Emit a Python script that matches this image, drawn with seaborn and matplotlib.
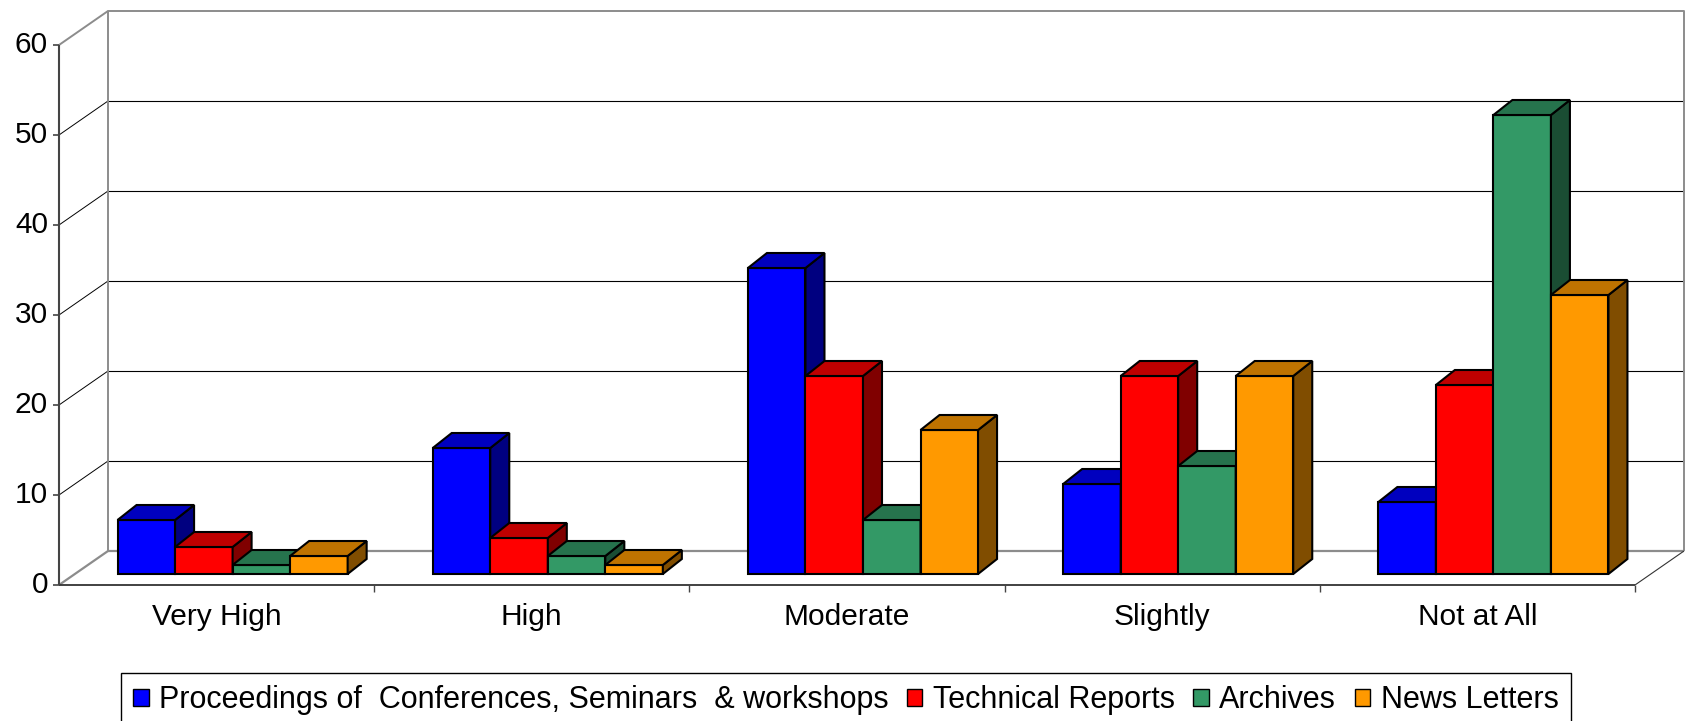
import numpy as np
import pandas as pd
import matplotlib
matplotlib.use("Agg")
import matplotlib.pyplot as plt
from matplotlib.patches import Polygon, Patch
import seaborn as sns

# ---------------- data ----------------
categories = ["Very High", "High", "Moderate", "Slightly", "Not at All"]
series_names = ["Proceedings of  Conferences, Seminars  & workshops",
                "Technical Reports", "Archives", "News Letters"]
proceedings = [6, 14, 34, 10, 8]
technical_reports = [3, 4, 22, 22, 21]
archives = [1, 2, 6, 12, 51]
news_letters = [2, 1, 16, 22, 31]
y_ticks = [0, 10, 20, 30, 40, 50, 60]
colors = ["#0000FF", "#FF0000", "#339966", "#FF9900"]

values = [proceedings, technical_reports, archives, news_letters]
rows = []
for name, vals in zip(series_names, values):
    for cat, v in zip(categories, vals):
        rows.append({"category": cat, "series": name, "value": v})
df = pd.DataFrame(rows)

plt.rcParams["font.family"] = ["Liberation Sans", "DejaVu Sans"]
FS = 21.5

W, H = 1685, 721
fig = plt.figure(figsize=(W / 100, H / 100), dpi=100)

# bar plane axes (pixel geometry)
ax_left_px, ax_right_px = 75, 1651
ax_base_px, ax_top_px = 574, 34
ax = fig.add_axes([ax_left_px / W, (H - ax_base_px) / H,
                   (ax_right_px - ax_left_px) / W, (ax_base_px - ax_top_px) / H])

sns.barplot(data=df, x="category", y="value", hue="series", palette=colors,
            order=categories, hue_order=series_names, width=0.73,
            edgecolor="black", linewidth=1.5, saturation=1, ax=ax, legend=False)
ax.set_xlim(-0.5, 4.5)
ax.set_ylim(0, 60)
ax.set_axis_off()

sx = (ax_right_px - ax_left_px) / 5.0   # px per x unit
sy = (ax_base_px - ax_top_px) / 60.0    # px per y unit

def off(dx_px, dy_px):
    return dx_px / sx, dy_px / sy

fdx, fdy = off(-16, -11)   # front plane
bdx, bdy = off(33, 23)     # back wall plane
ddx, ddy = off(19, 15)     # bar depth

gray = "#8c8c8c"
kw = dict(clip_on=False, solid_capstyle="butt")

# back wall gridlines and left wall lines
for v in y_ticks[1:-1]:
    ax.plot([-0.5 + bdx, 4.5 + bdx], [v + bdy, v + bdy], color="black", lw=0.8, zorder=1, **kw)
    ax.plot([-0.5 + fdx, -0.5 + bdx], [v + fdy, v + bdy], color="black", lw=0.7, zorder=1, **kw)
# back wall frame
ax.plot([-0.5 + bdx, -0.5 + bdx, 4.5 + bdx, 4.5 + bdx],
        [0 + bdy, 60 + bdy, 60 + bdy, 0 + bdy], color=gray, lw=1.4, zorder=1, **kw)
ax.plot([-0.5 + bdx, 4.5 + bdx], [bdy, bdy], color=gray, lw=1.6, zorder=1, **kw)
# left wall edges
ax.plot([-0.5 + fdx, -0.5 + bdx], [60 + fdy, 60 + bdy], color=gray, lw=1.4, zorder=1, **kw)
ax.plot([-0.5 + fdx, -0.5 + bdx], [fdy, bdy], color=gray, lw=1.6, zorder=1, **kw)
# floor right edge
ax.plot([4.5 + fdx, 4.5 + bdx], [fdy, bdy], color="#333333", lw=0.8, zorder=1, **kw)
# front floor line & y axis
ax.plot([-0.5 + fdx, 4.5 + fdx], [fdy, fdy], color="#333333", lw=1.3, zorder=2, **kw)
ax.plot([-0.5 + fdx, -0.5 + fdx], [fdy, 60 + fdy], color="#444444", lw=1.5, zorder=2, **kw)

# y ticks + labels
tdx, _ = off(-6, 0)
ldx, _ = off(-11, 0)
for v in y_ticks:
    ax.plot([-0.5 + fdx + tdx, -0.5 + fdx], [v + fdy, v + fdy], color="#444444", lw=1.2, **kw)
    ax.text(-0.5 + fdx + ldx, v + fdy, str(v), ha="right", va="center",
            fontsize=FS, color="black", clip_on=False)

# category ticks on the front floor
_, tdy = off(0, -7)
for k in range(1, 6):
    xk = -0.5 + k + fdx
    ax.plot([xk, xk], [fdy, fdy + tdy], color="#444444", lw=1.0, **kw)

# category labels
_, cly = off(0, -43)
for i, cat in enumerate(categories):
    ax.text(i + fdx, cly, cat, ha="center", va="center", fontsize=FS,
            color="black", clip_on=False)

# 3D faces for bars
def shade(c, f):
    r, g, b = matplotlib.colors.to_rgb(c)
    return (r * f, g * f, b * f)

for p in list(ax.patches):
    x0, w, h = p.get_x(), p.get_width(), p.get_height()
    fc = p.get_facecolor()
    z = 10 + x0
    p.set_zorder(z)
    p.set_clip_on(False)
    side = Polygon([(x0 + w, 0), (x0 + w + ddx, ddy), (x0 + w + ddx, h + ddy), (x0 + w, h)],
                   closed=True, facecolor=shade(fc, 0.5), edgecolor="black",
                   linewidth=1.5, zorder=z, clip_on=False, joinstyle="miter")
    top = Polygon([(x0, h), (x0 + w, h), (x0 + w + ddx, h + ddy), (x0 + ddx, h + ddy)],
                  closed=True, facecolor=shade(fc, 0.75), edgecolor="black",
                  linewidth=1.5, zorder=z, clip_on=False, joinstyle="miter")
    ax.add_patch(side)
    ax.add_patch(top)

# legend
handles = [Patch(facecolor=c, edgecolor="black", linewidth=1.0) for c in colors]
leg = fig.legend(handles, series_names, loc="upper left",
                 bbox_to_anchor=(121 / W, 1 - 673 / H), ncol=4, frameon=True,
                 fancybox=False, edgecolor="black", framealpha=1,
                 fontsize=22, handlelength=0.5, handleheight=0.5,
                 handletextpad=0.35, columnspacing=0.6, borderpad=0.4,
                 borderaxespad=0)
leg.get_frame().set_linewidth(1.0)

fig.savefig("out.png", dpi=100)
